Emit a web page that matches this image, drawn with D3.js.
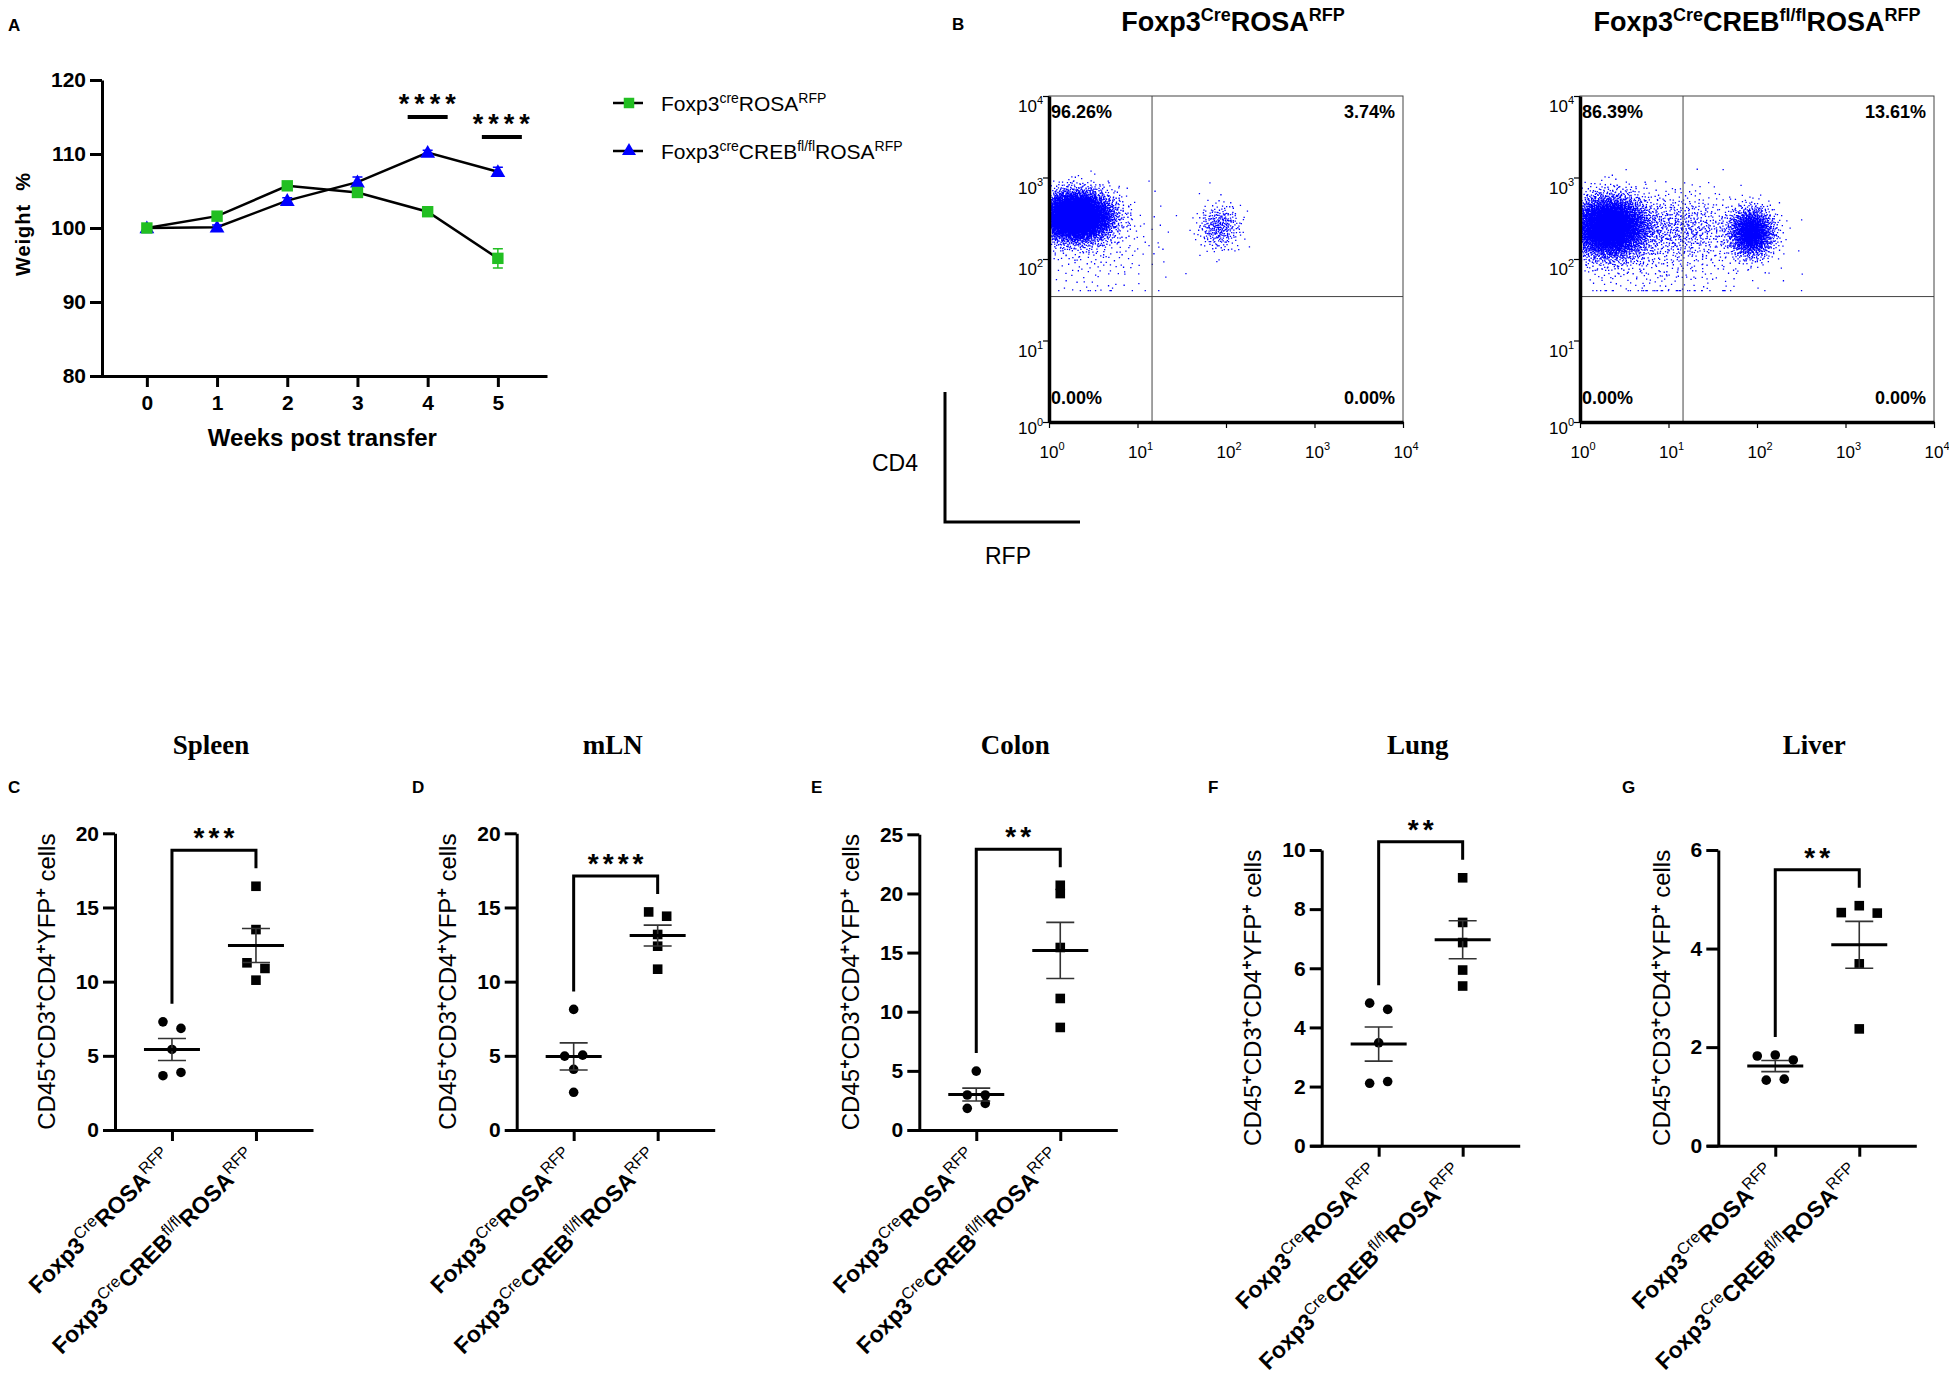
<!DOCTYPE html>
<html>
<head>
<meta charset="utf-8">
<title>Foxp3 CREB transfer figure</title>
<script src="https://cdn.jsdelivr.net/npm/d3@7"></script>
<style>
  body { margin: 0; background: #fff; }
  svg text { font-family: "Liberation Sans", Arial, sans-serif; fill: #000; }
  .serif { font-family: "Liberation Serif", "Times New Roman", serif; }
</style>
</head>
<body>
<svg id="fig" width="1949" height="1377"></svg>
<script>
// ---------- data: panel A (weight curve) ----------
var weeks = [0, 1, 2, 3, 4, 5];
var weightCre = [100, 101.6, 105.7, 104.8, 102.2, 95.9];
var weightCreErr = [0, 0.5, 0.4, 0.4, 0.4, 1.3];
var weightCreb = [100, 100.1, 103.7, 106.2, 110.2, 107.6];
var weightCrebErr = [0, 0.3, 0.4, 0.7, 0.3, 0.6];
var weightTicks = [80, 90, 100, 110, 120];
var sigWeeks = [4, 5];
var sigLevels = [115, 112.3];
var sigLabelsA = ["****", "****"];

// ---------- data: panel B (flow plots) ----------
var flowTitles = [
  [["Foxp3", 0], ["Cre", 1], ["ROSA", 0], ["RFP", 1]],
  [["Foxp3", 0], ["Cre", 1], ["CREB", 0], ["fl/fl", 1], ["ROSA", 0], ["RFP", 1]]
];
// quadrants: upper-left, upper-right, lower-left, lower-right
var quadPercents = [
  ["96.26%", "3.74%", "0.00%", "0.00%"],
  ["86.39%", "13.61%", "0.00%", "0.00%"]
];
var gateRFP = 14.6, gateCD4 = 34.6;
var decades = [0, 1, 2, 3, 4];
// event populations: [log10 RFP, log10 CD4, spread RFP, spread CD4, events]
var clustersCre = [
  [0.30, 2.53, 0.20, 0.15, 6000],
  [1.92, 2.40, 0.12, 0.14, 330],
  [0.50, 2.20, 0.38, 0.34, 280]
];
var clustersCreb = [
  [0.33, 2.40, 0.22, 0.19, 5200],
  [1.93, 2.33, 0.13, 0.15, 1700],
  [1.15, 2.40, 0.30, 0.22, 600],
  [0.90, 2.00, 0.60, 0.30, 400]
];

// ---------- data: panels C-G (organs) ----------
var organs = ["Spleen", "mLN", "Colon", "Lung", "Liver"];
var panelLetters = ["C", "D", "E", "F", "G"];
var organMax = [20, 20, 25, 10, 6];
var organStep = [5, 5, 5, 2, 2];
var organSig = ["***", "****", "**", "**", "**"];
var creValues = [
  [7.29, 6.85, 5.43, 3.66, 3.88],
  [8.13, 4.98, 5.05, 4.09, 2.54],
  [4.98, 2.96, 2.96, 1.83, 2.25],
  [4.82, 4.61, 3.48, 2.11, 2.17],
  [1.82, 1.84, 1.74, 1.33, 1.35]
];
var crebValues = [
  [16.43, 13.51, 11.27, 10.89, 10.10],
  [14.70, 14.41, 13.18, 12.39, 10.84],
  [20.69, 19.99, 15.43, 11.12, 8.67],
  [9.06, 7.55, 6.87, 5.94, 5.40],
  [4.73, 4.87, 4.72, 3.69, 2.37]
];
var groupLabels = [
  [["Foxp3", 0], ["Cre", 1], ["ROSA", 0], ["RFP", 1]],
  [["Foxp3", 0], ["Cre", 1], ["CREB", 0], ["fl/fl", 1], ["ROSA", 0], ["RFP", 1]]
];
var legendLabels = [
  [["Foxp3", 0], ["cre", 1], ["ROSA", 0], ["RFP", 1]],
  [["Foxp3", 0], ["cre", 1], ["CREB", 0], ["fl/fl", 1], ["ROSA", 0], ["RFP", 1]]
];
var yLabelParts = [["CD45", 0], ["+", 1], ["CD3", 0], ["+", 1], ["CD4", 0], ["+", 1], ["YFP", 0], ["+", 1], [" cells", 0]];

var green = "#22bf22", blue = "#0000ff";

var svg = d3.select("#fig");
svg.append("rect").attr("width", 1949).attr("height", 1377).attr("fill", "#fff");

// text with superscript pieces
function richText(g, parts, o) {
    var t = g.append("text");
    var up = false;
    parts.forEach(function (p) {
        var ts = t.append("tspan").text(p[0])
            .attr("font-size", p[1] ? o.supSize : o.size)
            .attr("font-weight", p[1] ? o.supWeight : o.weight);
        if (p[1] && !up) { ts.attr("dy", -o.raise); up = true; }
        else if (!p[1] && up) { ts.attr("dy", o.raise); up = false; }
    });
    return t;
}

function letter(txt, x, y) {
    svg.append("text").attr("x", x).attr("y", y).attr("font-size", 17)
        .attr("font-weight", "bold").text(txt);
}

// ================= Panel A =================
letter("A", 8, 31);
var xA = d3.scaleLinear().domain([-0.81, 5.7]).range([90, 547]);
var yA = d3.scaleLinear().domain([80, 120]).range([376, 80]);
var gA = svg.append("g");

var yAxA = gA.append("g").attr("transform", "translate(102,0)")
    .call(d3.axisLeft(yA).tickValues(weightTicks).tickFormat(d3.format("d"))
        .tickSize(12).tickSizeOuter(0).tickPadding(4));
var xAxA = gA.append("g").attr("transform", "translate(0,376)")
    .call(d3.axisBottom(xA).tickValues(weeks).tickFormat(d3.format("d"))
        .tickSize(11).tickSizeOuter(0).tickPadding(8));
[yAxA, xAxA].forEach(function (a) {
    a.select(".domain").attr("stroke-width", 3);
    a.selectAll(".tick line").attr("stroke-width", 3);
    a.selectAll(".tick text").attr("font-size", 21).attr("font-weight", "bold")
        .attr("font-family", "Liberation Sans, Arial, sans-serif");
});

gA.append("text").attr("x", xA(2.5)).attr("y", 446).attr("text-anchor", "middle")
    .attr("font-size", 24).attr("font-weight", "bold").text("Weeks post transfer");
gA.append("text").attr("transform", "translate(30,224) rotate(-90)")
    .attr("text-anchor", "middle").attr("font-size", 20).attr("font-weight", "bold")
    .attr("letter-spacing", 1).text("Weight  %").style("white-space", "pre");

var lineA = d3.line().x(function (d) { return xA(d[0]); }).y(function (d) { return yA(d[1]); });
var seriesA = [
    { vals: weightCreb, err: weightCrebErr, color: blue, shape: "tri" },
    { vals: weightCre, err: weightCreErr, color: green, shape: "sq" }
];
seriesA.forEach(function (s) {
    gA.append("path").datum(weeks.map(function (w, i) { return [w, s.vals[i]]; }))
        .attr("d", lineA).attr("fill", "none").attr("stroke", "#000").attr("stroke-width", 2.5);
});
seriesA.forEach(function (s) {
    weeks.forEach(function (w, i) {
        var cx = xA(w), e = s.err[i];
        if (e > 0) {
            var y1 = yA(s.vals[i] - e), y2 = yA(s.vals[i] + e);
            gA.append("path").attr("d", "M" + cx + "," + y1 + "V" + y2 +
                "M" + (cx - 5) + "," + y1 + "h10M" + (cx - 5) + "," + y2 + "h10")
                .attr("stroke", s.color).attr("stroke-width", 1.5).attr("fill", "none");
        }
        var sym = s.shape === "sq" ? d3.symbolSquare : d3.symbolTriangle;
        gA.append("path").attr("d", d3.symbol().type(sym).size(s.shape === "sq" ? 130 : 95)())
            .attr("transform", "translate(" + cx + "," + (yA(s.vals[i]) + (s.shape === "sq" ? 0 : 1)) + ")")
            .attr("fill", s.color);
    });
});
sigWeeks.forEach(function (w, i) {
    var cx = xA(w) + (i === 1 ? 4 : 0), cy = yA(sigLevels[i]);
    gA.append("line").attr("x1", cx - 20).attr("x2", cx + 20).attr("y1", cy).attr("y2", cy)
        .attr("stroke", "#000").attr("stroke-width", 4);
    gA.append("text").attr("x", cx + 2).attr("y", cy - 4).attr("text-anchor", "middle")
        .attr("font-size", 27).attr("font-weight", "bold").attr("letter-spacing", 5)
        .text(sigLabelsA[i]);
});
// legend
[[green, "sq", 103], [blue, "tri", 151]].forEach(function (L, i) {
    var ly = L[2];
    gA.append("line").attr("x1", 613).attr("x2", 643).attr("y1", ly).attr("y2", ly)
        .attr("stroke", "#000").attr("stroke-width", 2.5);
    gA.append("path").attr("d", d3.symbol().type(L[1] === "sq" ? d3.symbolSquare : d3.symbolTriangle)
        .size(L[1] === "sq" ? 110 : 85)()).attr("transform", "translate(629," + ly + ")").attr("fill", L[0]);
    var t = richText(gA, legendLabels[i], { size: 21, supSize: 14, weight: "normal", supWeight: "normal", raise: 8 });
    t.attr("x", 661).attr("y", ly + 8);
});

// ================= Panel B =================
letter("B", 952, 30);
var flowLeft = [1049, 1580], flowTop = 96, flowW = 354, flowH = 326;
var flowTitleX = [1233, 1757];

function halton(i, b) {
    var f = 1, r = 0;
    while (i > 0) { f = f / b; r += f * (i % b); i = Math.floor(i / b); }
    return r;
}

[clustersCre, clustersCreb].forEach(function (clusters, p) {
    var x0 = flowLeft[p];
    var gx = d3.scaleLog().domain([1, 1e4]).range([x0, x0 + flowW]);
    var gy = d3.scaleLog().domain([1, 1e4]).range([flowTop + flowH, flowTop]);
    var g = svg.append("g");

    var t = richText(g, flowTitles[p], { size: 27, supSize: 18, weight: "bold", supWeight: "bold", raise: 10 });
    t.attr("x", flowTitleX[p]).attr("y", 31).attr("text-anchor", "middle");

    // events
    var d = "";
    var seed = 1;
    clusters.forEach(function (c) {
        for (var k = 0; k < c[4]; k++) {
            var i = seed + k;
            var u1 = halton(i, 2) || 1e-6, u2 = halton(i, 3);
            var r = Math.sqrt(-2 * Math.log(u1));
            var lx = c[0] + c[2] * r * Math.cos(2 * Math.PI * u2);
            var ly = c[1] + c[3] * r * Math.sin(2 * Math.PI * u2);
            lx = Math.min(Math.max(lx, 0.005), 3.99);
            ly = Math.min(Math.max(ly, 1.62), 3.99);
            d += "M" + gx(Math.pow(10, lx)).toFixed(1) + "," + gy(Math.pow(10, ly)).toFixed(1) + "h1.3v1.3h-1.3z";
        }
        seed += c[4] + 137;
    });
    g.append("path").attr("d", d).attr("fill", blue);

    // frame and gates
    g.append("rect").attr("x", x0).attr("y", flowTop).attr("width", flowW).attr("height", flowH)
        .attr("fill", "none").attr("stroke", "#444").attr("stroke-width", 1);
    g.append("line").attr("x1", gx(gateRFP)).attr("x2", gx(gateRFP)).attr("y1", flowTop).attr("y2", flowTop + flowH)
        .attr("stroke", "#444").attr("stroke-width", 1);
    g.append("line").attr("x1", x0).attr("x2", x0 + flowW).attr("y1", gy(gateCD4)).attr("y2", gy(gateCD4))
        .attr("stroke", "#444").attr("stroke-width", 1);

    // axes with log minor ticks
    var major = decades.map(function (e) { return Math.pow(10, e); });
    var minor = [];
    decades.slice(0, 4).forEach(function (e) {
        for (var m = 2; m < 10; m++) minor.push(m * Math.pow(10, e));
    });
    var axL = g.append("g").attr("transform", "translate(" + x0 + ",0)");
    axL.call(d3.axisLeft(gy).tickValues(minor).tickSize(3).tickFormat(""));
    axL.call(d3.axisLeft(gy).tickValues(major).tickSize(6).tickFormat("").tickSizeOuter(0));
    var axB = g.append("g").attr("transform", "translate(0," + (flowTop + flowH) + ")");
    axB.call(d3.axisBottom(gx).tickValues(minor).tickSize(3).tickFormat(""));
    axB.call(d3.axisBottom(gx).tickValues(major).tickSize(6).tickFormat("").tickSizeOuter(0));
    [axL, axB].forEach(function (a) {
        a.selectAll(".domain").attr("stroke-width", 3.5);
        a.selectAll(".tick line").attr("stroke-width", 1.2);
    });

    decades.forEach(function (e) {
        var tb = richText(g, [["10", 0], [String(e), 1]], { size: 17, supSize: 11, weight: "normal", supWeight: "normal", raise: 8 });
        tb.attr("x", gx(Math.pow(10, e)) + 3).attr("y", flowTop + flowH + 36).attr("text-anchor", "middle")
            .attr("fill", "#222");
        var tl = richText(g, [["10", 0], [String(e), 1]], { size: 17, supSize: 11, weight: "normal", supWeight: "normal", raise: 8 });
        tl.attr("x", x0 - 6).attr("y", gy(Math.pow(10, e)) + (e === 0 ? 12 : 16)).attr("text-anchor", "end")
            .attr("fill", "#222");
    });

    var q = quadPercents[p];
    [[x0 + 2, flowTop + 22, "start", q[0]], [x0 + flowW - 8, flowTop + 22, "end", q[1]],
     [x0 + 2, flowTop + flowH - 18, "start", q[2]], [x0 + flowW - 8, flowTop + flowH - 18, "end", q[3]]]
        .forEach(function (a) {
            g.append("text").attr("x", a[0]).attr("y", a[1]).attr("text-anchor", a[2])
                .attr("font-size", 18).attr("font-weight", "bold").text(a[3]);
        });
});

// CD4 / RFP orientation marker
svg.append("path").attr("d", "M945,392V522H1080").attr("fill", "none")
    .attr("stroke", "#000").attr("stroke-width", 3);
svg.append("text").attr("x", 918).attr("y", 471).attr("text-anchor", "end")
    .attr("font-size", 23).text("CD4");
svg.append("text").attr("x", 985).attr("y", 564).attr("font-size", 23).text("RFP");

// ================= Panels C-G =================
var axisXs = [115, 516.7, 919.3, 1321.7, 1718.3];
var yTops = [833.3, 833.3, 834.3, 850, 850];
var yZeros = [1130, 1130, 1130, 1145.7, 1145.7];
var letterXs = [8, 412, 811, 1208, 1622];

function rowOffsets(vals, yS) {
    // group consecutive points that overlap vertically into rows
    var offs = new Array(vals.length), i = 0;
    while (i < vals.length) {
        var j = i + 1;
        while (j < vals.length && j - i < 3 && Math.abs(yS(vals[j]) - yS(vals[i])) < 8) j++;
        var n = j - i;
        for (var k = i; k < j; k++) offs[k] = (k - i - (n - 1) / 2) * 18;
        i = j;
    }
    return offs;
}

organs.forEach(function (organ, p) {
    var ax = axisXs[p];
    var g = svg.append("g");
    var y = d3.scaleLinear().domain([0, organMax[p]]).range([yZeros[p], yTops[p]]);
    var x = d3.scaleLinear().domain([-0.821, 1.679]).range([ax - 12, ax + 198]);

    letter(panelLetters[p], letterXs[p], 793);
    g.append("text").attr("class", "serif").attr("x", (x(0) + x(1)) / 2 - 3).attr("y", 754)
        .attr("text-anchor", "middle").attr("font-size", 27).attr("font-weight", "bold").text(organ);

    var yAx = g.append("g").attr("transform", "translate(" + ax + ",0)")
        .call(d3.axisLeft(y).tickValues(d3.range(0, organMax[p] + 0.01, organStep[p]))
            .tickFormat(d3.format("d")).tickSize(12).tickSizeOuter(0).tickPadding(4));
    var xAx = g.append("g").attr("transform", "translate(0," + yZeros[p] + ")")
        .call(d3.axisBottom(x).tickValues([0, 1]).tickSize(11).tickSizeOuter(0).tickFormat(""));
    [yAx, xAx].forEach(function (a) {
        a.select(".domain").attr("stroke-width", 3);
        a.selectAll(".tick line").attr("stroke-width", 3);
    });
    yAx.selectAll(".tick text").attr("font-size", 21).attr("font-weight", "bold")
        .attr("font-family", "Liberation Sans, Arial, sans-serif");

    var maxTickW = 0;
    yAx.selectAll(".tick text").each(function () { maxTickW = Math.max(maxTickW, this.getComputedTextLength()); });
    var yl = richText(g, yLabelParts, { size: 24, supSize: 16, weight: "normal", supWeight: "bold", raise: 9 });
    yl.attr("text-anchor", "middle")
        .attr("transform", "translate(" + (ax - 37 - maxTickW) + "," + ((yTops[p] + yZeros[p]) / 2) + ") rotate(-90)");

    // rotated group labels
    [0, 1].forEach(function (gi) {
        var t = richText(g, groupLabels[gi], { size: 23, supSize: 16, weight: "bold", supWeight: "normal", raise: 9 });
        t.attr("text-anchor", "end")
            .attr("transform", "translate(" + (x(gi) + 2) + "," + (yZeros[p] + 29) + ") rotate(-45)");
    });

    // points, mean and SEM
    [creValues[p], crebValues[p]].forEach(function (vals, gi) {
        var offs = rowOffsets(vals, y);
        var cx = x(gi);
        vals.forEach(function (v, k) {
            if (gi === 0) {
                g.append("circle").attr("cx", cx + offs[k]).attr("cy", y(v)).attr("r", 4.8).attr("fill", "#000");
            } else {
                g.append("rect").attr("x", cx + offs[k] - 4.8).attr("y", y(v) - 4.8)
                    .attr("width", 9.6).attr("height", 9.6).attr("fill", "#000");
            }
        });
        var m = d3.mean(vals), sem = d3.deviation(vals) / Math.sqrt(vals.length);
        g.append("path").attr("d", "M" + cx + "," + y(m - sem) + "V" + y(m + sem) +
            "M" + (cx - 14) + "," + y(m - sem) + "h28M" + (cx - 14) + "," + y(m + sem) + "h28")
            .attr("stroke", "#333").attr("stroke-width", 1.6).attr("fill", "none");
        g.append("line").attr("x1", cx - 28).attr("x2", cx + 28).attr("y1", y(m)).attr("y2", y(m))
            .attr("stroke", "#000").attr("stroke-width", 3);
    });

    // significance bracket
    var top = y(d3.max(creValues[p].concat(crebValues[p]))) - 36;
    var l = y(d3.max(creValues[p])) - 18, r = y(d3.max(crebValues[p])) - 18;
    g.append("path").attr("d", "M" + x(0) + "," + l + "V" + top + "H" + x(1) + "V" + r)
        .attr("fill", "none").attr("stroke", "#000").attr("stroke-width", 3);
    g.append("text").attr("x", (x(0) + x(1)) / 2 + 2).attr("y", top - 3).attr("text-anchor", "middle")
        .attr("font-size", 28).attr("font-weight", "bold").attr("letter-spacing", 4).text(organSig[p]);
});
</script>
</body>
</html>
